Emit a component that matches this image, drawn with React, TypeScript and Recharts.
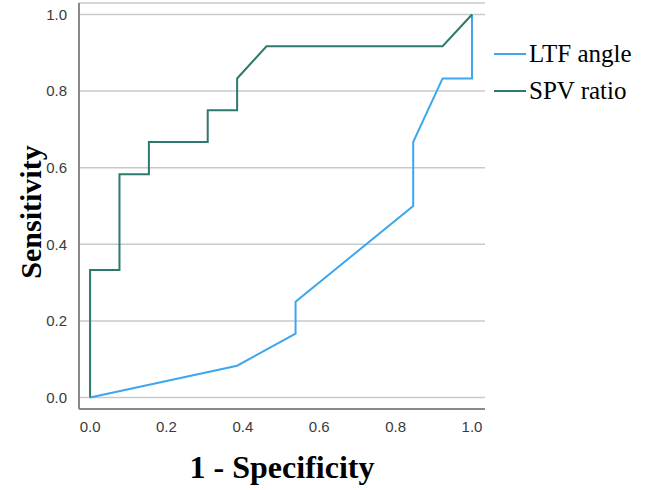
import React from 'react';
import { LineChart, Line, XAxis, YAxis, CartesianGrid, Legend, Label } from 'recharts';

// ROC points (1 - specificity, sensitivity)
const spvX = [0, 0, 0.077, 0.077, 0.154, 0.154, 0.308, 0.308, 0.385, 0.385, 0.462, 0.923, 1];
const spvY = [0, 0.333, 0.333, 0.583, 0.583, 0.667, 0.667, 0.75, 0.75, 0.833, 0.917, 0.917, 1];

const ltfX = [0, 0.385, 0.538, 0.538, 0.846, 0.846, 0.923, 1, 1];
const ltfY = [0, 0.083, 0.167, 0.25, 0.5, 0.667, 0.833, 0.833, 1];

const ticks = [0, 0.2, 0.4, 0.6, 0.8, 1.0];

const seriesNames = ['LTF angle', 'SPV ratio'];
const seriesColors = ['#3ea6ee', '#2c7a6d'];

const ltfData = ltfX.map((x, i) => ({ x, y: ltfY[i] }));
const spvData = spvX.map((x, i) => ({ x, y: spvY[i] }));

const serif = '"Liberation Serif", "Times New Roman", serif';
const sans = '"Liberation Sans", Arial, sans-serif';

const LegendBox = () => (
  <div style={{ fontFamily: serif, fontSize: 25, color: '#000' }}>
    {seriesNames.map((name, i) => (
      <div key={name} style={{ display: 'flex', alignItems: 'center', height: 37 }}>
        <div style={{ width: 32, height: 2, background: seriesColors[i], marginRight: 3 }} />
        <span>{name}</span>
      </div>
    ))}
  </div>
);

export default function App() {
  return (
    <div style={{ position: 'absolute', left: 0, top: 0, width: 645, height: 490, background: '#fff' }}>
      <LineChart width={645} height={490} margin={{ top: 3, right: 160, left: 0, bottom: 0 }}>
        <CartesianGrid horizontal vertical={false} stroke="#c9c9c9" strokeWidth={1.5} />
        <XAxis
          type="number"
          dataKey="x"
          domain={[-0.029, 1.034]}
          ticks={ticks}
          allowDataOverflow
          tickFormatter={(v: number) => v.toFixed(1)}
          tickLine={false}
          axisLine={{ stroke: '#8a8a8a', strokeWidth: 2 }}
          tick={{ fill: '#3a3a3a', fontSize: 15, fontFamily: sans }}
          tickMargin={6}
          height={81}
        >
          <Label
            content={({ viewBox }: any) => (
              <text
                x={viewBox.x + viewBox.width / 2}
                y={478}
                textAnchor="middle"
                fontFamily={serif}
                fontWeight="bold"
                fontSize={32}
                fill="#000"
              >
                1 - Specificity
              </text>
            )}
          />
        </XAxis>
        <YAxis
          type="number"
          dataKey="y"
          domain={[-0.03, 1.03]}
          ticks={ticks}
          allowDataOverflow
          tickFormatter={(v: number) => v.toFixed(1)}
          tickLine={false}
          axisLine={{ stroke: '#8a8a8a', strokeWidth: 2 }}
          tick={{ fill: '#3a3a3a', fontSize: 15, fontFamily: sans }}
          tickMargin={6}
          width={79}
        >
          <Label
            content={({ viewBox }: any) => {
              const cy = viewBox.y + viewBox.height / 2 + 6;
              return (
                <text
                  x={30}
                  y={cy}
                  transform={`rotate(-90, 30, ${cy})`}
                  textAnchor="middle"
                  dominantBaseline="central"
                  fontFamily={serif}
                  fontWeight="bold"
                  fontSize={30}
                  fill="#000"
                >
                  Sensitivity
                </text>
              );
            }}
          />
        </YAxis>
        <Legend
          layout="vertical"
          align="center"
          verticalAlign="middle"
          content={() => <LegendBox />}
          wrapperStyle={{ left: 494, top: 35, width: 150 }}
        />
        <Line
          name={seriesNames[0]}
          data={ltfData}
          dataKey="y"
          type="linear"
          stroke={seriesColors[0]}
          strokeWidth={2}
          dot={false}
          isAnimationActive={false}
        />
        <Line
          name={seriesNames[1]}
          data={spvData}
          dataKey="y"
          type="linear"
          stroke={seriesColors[1]}
          strokeWidth={2}
          dot={false}
          isAnimationActive={false}
        />
      </LineChart>
    </div>
  );
}
